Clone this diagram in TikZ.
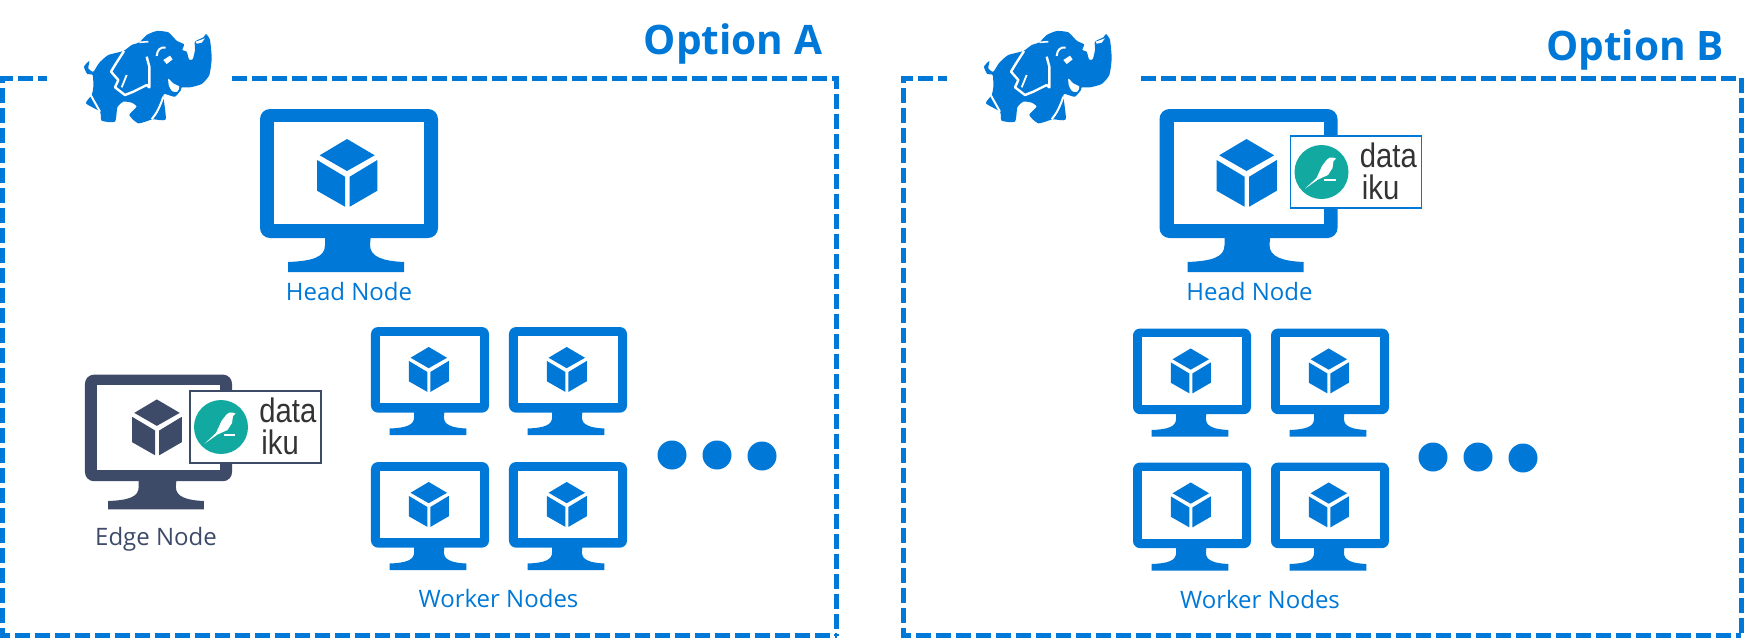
\documentclass[tikz,border=0pt]{standalone}
\usepackage{fontspec}
\setmainfont{Open Sans}
\newfontfamily\ikufont[FakeStretch=0.86]{Liberation Sans}
\usetikzlibrary{positioning}
\definecolor{azurecol}{RGB}{0,120,215}
\definecolor{edgecol}{RGB}{61,74,104}
\definecolor{ikucol}{RGB}{18,170,160}
\definecolor{inkcol}{RGB}{51,51,51}
\begin{document}
\begin{tikzpicture}[
    x=0.5pt, y=-0.5pt,
    frameline/.style={azurecol, line width=2.5pt, dash pattern=on 7.5pt off 2.5pt},
    title/.style={text=azurecol, font=\fontsize{20.3}{24}\selectfont\bfseries, inner sep=0pt, anchor=base},
    caption/.style={font=\fontsize{12}{14}\selectfont, inner sep=0pt, anchor=base},
    dot/.style={circle, fill=azurecol, minimum size=14.5pt, inner sep=0pt},
    ikubox/.style={rectangle, fill=white, line width=0.7pt, minimum width=65.5pt, minimum height=36pt, inner sep=0pt},
    ikutext/.style={text=inkcol, font=\ikufont\fontsize{17}{17}\selectfont, inner sep=0pt, anchor=base west},
    pics/monitor/.style 2 args={code={
        \fill[#1, rounded corners=#2] (-89,-64) rectangle (89,65);
        \fill[white] (-75,-51) rectangle (75,51);
        \fill[#1] (-24,60) -- (-24,72) .. controls (-24,84) and (-36,88) .. (-61,89) -- (-61,99) -- (55,99) -- (55,89) .. controls (34,88) and (21,84) .. (21,72) -- (22,60) -- cycle;
        \fill[#1] (-2,-34) -- (25.7,-17.7) -- (-2,-2) -- (-29.3,-17.7) -- cycle;
        \fill[#1] (-32,-13) -- (-4,3.7) -- (-4,33.7) -- (-32,17.7) -- cycle;
        \fill[#1] (0.7,3.7) -- (28.3,-13) -- (28.3,17.7) -- (0.7,33.7) -- cycle;
    }},
    pics/dataiku/.style={code={
        \node[ikubox, draw=#1] (box) at (0,0) {};
        \node[circle, fill=ikucol, minimum size=27pt, inner sep=0pt] (disc) at (-34.5,0) {};
        \fill[white] (-51,16.7) -- (-39.5,6) -- (-34,-6) -- (-29,-12.5) -- (-26,-14.5) -- (-23,-14.5) -- (-20,-13.5) -- (-22.5,-11) -- (-23.5,-4) -- (-28,3) -- (-38,7.5) -- cycle;
        \fill[white] (-32,7.4) rectangle (-20.5,8.6);
        \node[ikutext] (data) at (3.5,-4.5) {data};
        \node[ikutext] (iku) at (5.5,27) {iku};
    }},
    pics/hadoop/.style={code={
        \begin{scope}[x=0.16667pt, y=-0.16667pt]
        \fill[azurecol] plot[smooth cycle, tension=0.35] coordinates {
            (268,183) (265,205) (280,215) (298,188) (325,165) (370,153) (395,135) (418,127) (440,105) (470,93)
            (505,97) (530,122) (552,133) (547,150) (560,155) (567,178) (578,178) (585,150) (585,125) (610,112)
            (618,102) (630,120) (635,175) (628,225) (605,252) (570,262) (545,262) (543,270) (525,290) (505,285)
            (490,285) (497,358) (458,358) (415,370) (388,345) (410,320) (395,308) (370,305) (352,322) (345,365)
            (305,362) (300,335) (258,310) (275,285) (280,260) (278,225) (262,222) (252,200)};
        \fill[white] plot[smooth cycle, tension=0.4] coordinates {(505,236) (520,250) (538,260) (532,275) (517,274) (507,258)};
        \fill[white] (490,180) -- (510,167) -- (518,178) -- (500,192) -- cycle;
        \fill[white] (587,125) -- (615,115) -- (605,128) -- (590,131) -- cycle;
        \draw[white, line width=1.2pt, line join=round] (372,153) -- (345,195) -- (333,215) -- (355,240) -- (345,262) -- (375,285) -- (400,275) -- (440,255) -- (448,262) -- (448,200) -- (440,170);
        \draw[white, line width=0.9pt] (365,262) -- (380,225);
        \draw[white, line width=1pt] (272,285) -- (300,335);
        \draw[white, line width=1pt] (490,290) .. controls (480,320) and (470,340) .. (455,358);
        \draw[white, line width=0.8pt] (418,127) -- (445,125);
        \draw[white, line width=1pt] (470,168) .. controls (472,150) and (480,140) .. (497,143);
        \end{scope}
    }},
]
\useasboundingbox (0,0) rectangle (1747,639);

\node[title] (optiona) at (733,54) {Option A};
\node[title] (optionb) at (1635,60) {Option B};

\draw[frameline] (232,78) -- (836.5,78) -- (836.5,635.5);
\draw[frameline, dash phase=3pt] (47,78) -- (2.5,78) -- (2.5,635.5) -- (836.5,635.5);
\draw[frameline] (1141,78) -- (1741,78) -- (1741,635.5);
\draw[frameline, dash phase=3pt] (947,78) -- (903,78) -- (903,635.5) -- (1741,635.5);

\pic (hadoopa) at (0,0) {hadoop};
\pic (hadoopb) at (900,0) {hadoop};

\pic (heada) at (349,173) {monitor={azurecol}{5pt}};
\node[caption, text=azurecol] (headalabel) at (349,300.5) {Head Node};

\pic[scale=0.826] (edge) at (158.5,427.5) {monitor={edgecol}{4.5pt}};
\pic (ikua) at (255.5,427) {dataiku=edgecol};
\node[caption, text=edgecol] (edgelabel) at (156,545.5) {Edge Node};

\foreach \px/\py in {430/369.5, 568/369.5, 430/504.5, 568/504.5}
    \pic[scale=0.663] at (\px,\py) {monitor={azurecol}{3.5pt}};
\node[caption, text=azurecol] (workeralabel) at (498.5,607.5) {Worker Nodes};

\node[dot] (dota1) at (672,455) {};
\node[dot] (dota2) at (717,455) {};
\node[dot] (dota3) at (762,456) {};

\pic (headb) at (1248.5,173) {monitor={azurecol}{5pt}};
\pic (ikub) at (1356,172) {dataiku=azurecol};
\node[caption, text=azurecol] (headblabel) at (1249.5,300.5) {Head Node};

\foreach \px/\py in {1192/371, 1330/371, 1192/505, 1330/505}
    \pic[scale=0.663] at (\px,\py) {monitor={azurecol}{3.5pt}};
\node[caption, text=azurecol] (workerblabel) at (1260,608.5) {Worker Nodes};

\node[dot] (dotb1) at (1433,457) {};
\node[dot] (dotb2) at (1478,457) {};
\node[dot] (dotb3) at (1523,458) {};
\end{tikzpicture}
\end{document}
